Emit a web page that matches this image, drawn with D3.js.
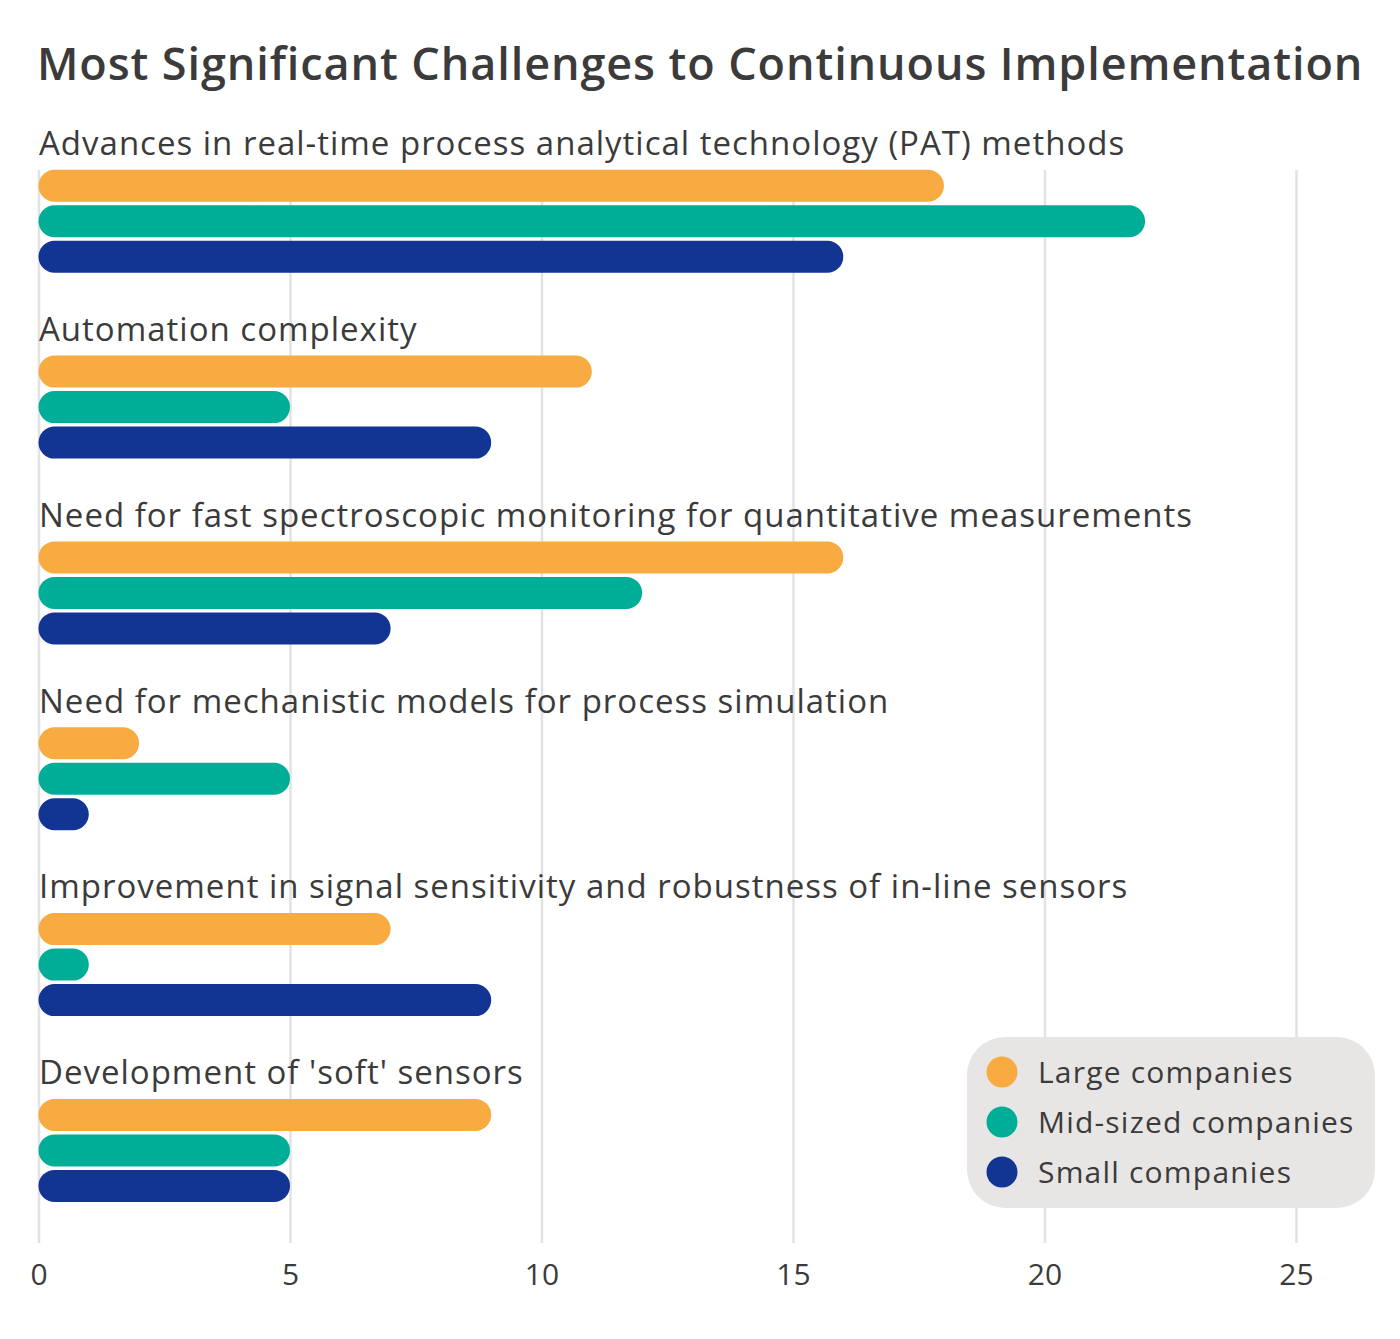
<!DOCTYPE html>
<html>
<head>
<meta charset="utf-8">
<script src="https://cdn.jsdelivr.net/npm/d3@7"></script>
<style>
  body { margin: 0; background: #fff; }
  #chart text { font-family: "Open Sans", "Lato", sans-serif; fill: #3b3b3b; }
</style>
</head>
<body>
<div id="chart"></div>
<script>
// data
const categories = [
    "Advances in real-time process analytical technology (PAT) methods",
    "Automation complexity",
    "Need for fast spectroscopic monitoring for quantitative measurements",
    "Need for mechanistic models for process simulation",
    "Improvement in signal sensitivity and robustness of in-line sensors",
    "Development of 'soft' sensors"
];
const seriesNames = ["Large companies", "Mid-sized companies", "Small companies"];
const largeValues = [18, 11, 16, 2, 7, 9];
const midValues = [22, 5, 12, 5, 1, 5];
const smallValues = [16, 9, 7, 1, 9, 5];
const tickValues = [0, 5, 10, 15, 20, 25];

const colors = ["#f8ab41", "#00ae98", "#123594"];
const series = [largeValues, midValues, smallValues];

const width = 1400;
const height = 1339;
const xLeft = 38.5, xRight = 1296;
const plotTop = 125, plotBottom = 1240;

const svg = d3.select("#chart").append("svg")
    .attr("width", width)
    .attr("height", height);

const x = d3.scaleLinear().domain([0, 25]).range([xLeft, xRight]);
const yGroup = d3.scaleBand().domain(categories).range([plotTop, plotBottom]);
const yInner = d3.scaleBand().domain(seriesNames).range([43, 43 + 106.5]).paddingInner(0.1).paddingOuter(0.05);

// gridlines + tick labels
const axis = d3.axisBottom(x)
    .tickValues(tickValues)
    .tickSize(-(plotBottom + 3 - 170))
    .tickPadding(20);

const axisG = svg.append("g")
    .attr("transform", `translate(0,${plotBottom + 3})`)
    .call(axis);
axisG.select(".domain").remove();
axisG.selectAll(".tick line").attr("stroke", "#e2e2e2").attr("stroke-width", 2.5);
axisG.selectAll(".tick text").attr("font-size", 30).attr("dy", "0.72em");

// title
svg.append("text")
    .attr("x", 37)
    .attr("y", 80)
    .attr("font-size", 45)
    .attr("font-weight", 600)
    .attr("letter-spacing", 0.9)
    .text("Most Significant Challenges to Continuous Implementation");

const groups = svg.selectAll(".group")
    .data(categories)
    .enter()
    .append("g")
    .attr("class", "group")
    .attr("transform", d => `translate(0,${yGroup(d)})`);

groups.append("text")
    .attr("x", 39)
    .attr("y", 30)
    .attr("font-size", 33)
    .attr("letter-spacing", 1)
    .text(d => d);

groups.each(function (cat, i) {
    const g = d3.select(this);
    const rows = seriesNames.map((name, j) => ({ name: name, value: series[j][i], color: colors[j] }));
    g.selectAll("rect")
        .data(rows)
        .enter()
        .append("rect")
        .attr("x", x(0))
        .attr("y", d => yInner(d.name))
        .attr("height", yInner.bandwidth())
        .attr("width", d => x(d.value) - x(0))
        .attr("rx", yInner.bandwidth() / 2)
        .attr("fill", d => d.color);
});

// legend
const legend = svg.append("g").attr("transform", "translate(967,1037)");
legend.append("rect")
    .attr("width", 408)
    .attr("height", 171)
    .attr("rx", 38)
    .attr("fill", "#e8e6e4");

const items = legend.selectAll(".item")
    .data(seriesNames)
    .enter()
    .append("g")
    .attr("class", "item")
    .attr("transform", (d, i) => `translate(0,${35 + i * 50})`);

items.append("circle")
    .attr("cx", 35)
    .attr("cy", 0)
    .attr("r", 15.5)
    .attr("fill", (d, i) => colors[i]);

items.append("text")
    .attr("x", 71)
    .attr("y", 0)
    .attr("dy", "0.35em")
    .attr("font-size", 30)
    .attr("letter-spacing", 1.2)
    .text(d => d);
</script>
</body>
</html>
